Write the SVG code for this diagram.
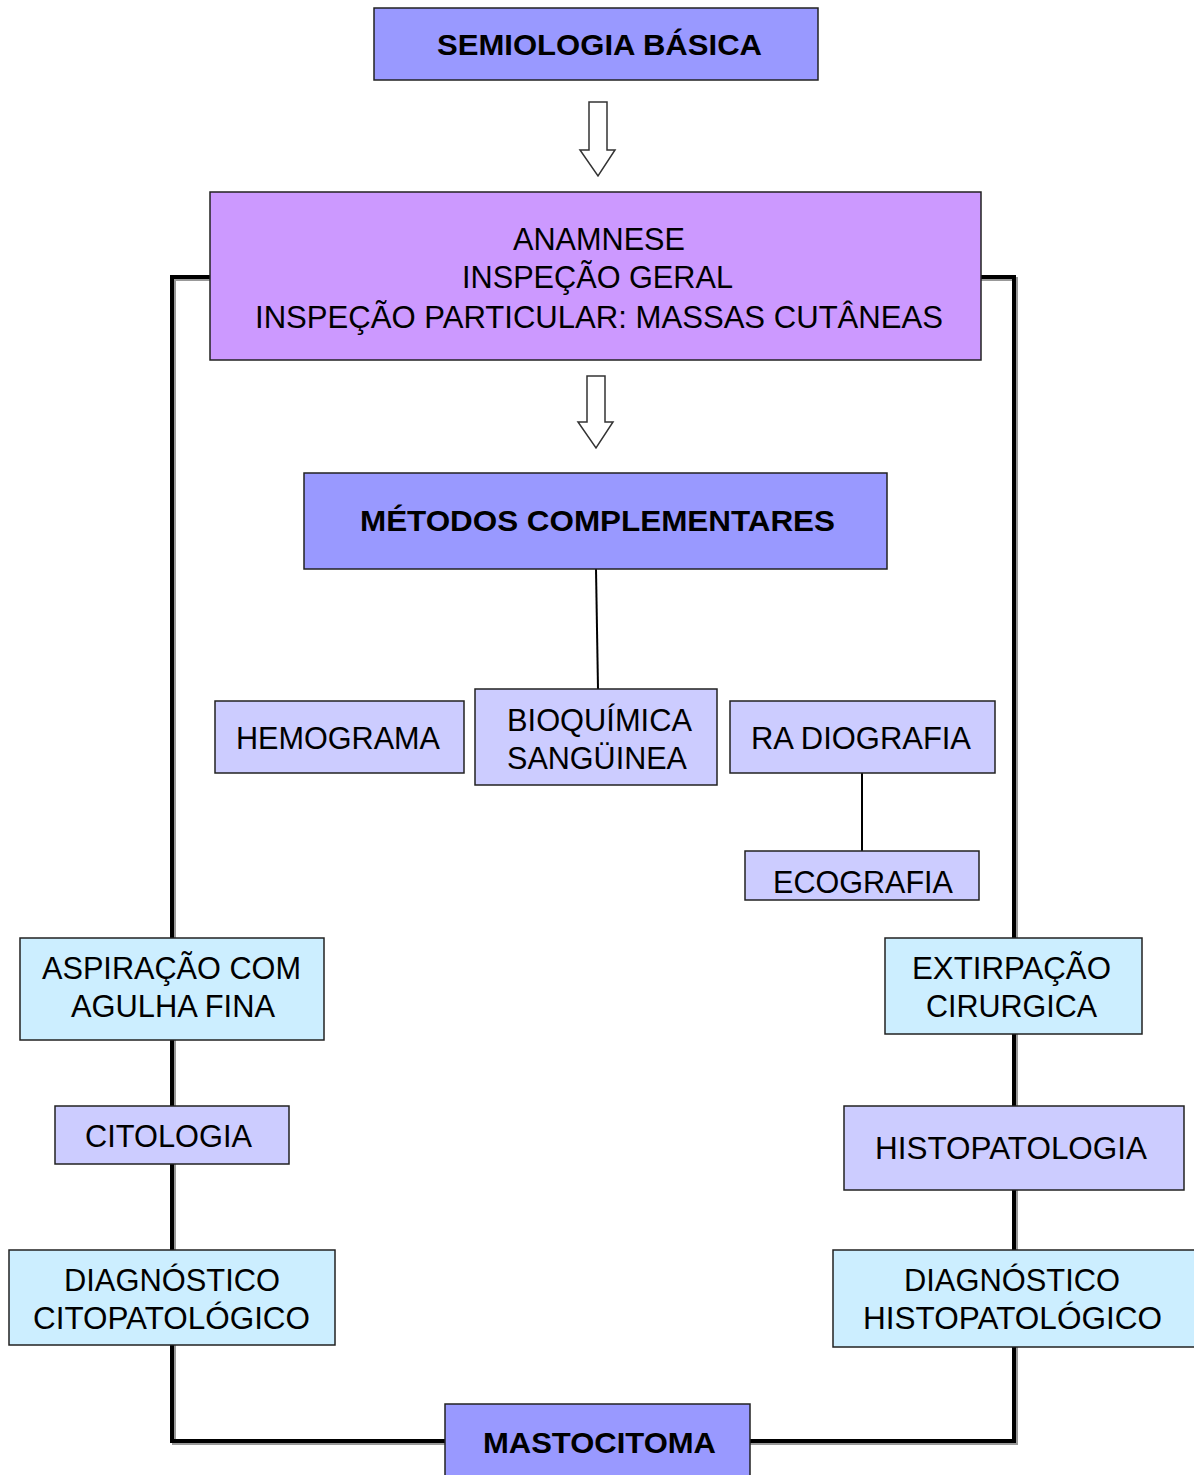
<svg xmlns="http://www.w3.org/2000/svg" width="1194" height="1475" viewBox="0 0 1194 1475">
<style>
.box{stroke:#222;stroke-width:1.5}
.dk{fill:#9999ff}
.pu{fill:#cc99ff}
.lt{fill:#ccccff}
.bl{fill:#cceeff}
text{font-family:"Liberation Sans",Arial,sans-serif;font-size:31px;fill:#000}
.b{font-weight:bold;font-size:30px}
.thick{fill:none;stroke:#000;stroke-width:4}
.shadow{fill:none;stroke:#999;stroke-width:4}
.thin{fill:none;stroke:#000;stroke-width:2}
.arrow{fill:#fff;stroke:#333;stroke-width:1.5}
</style>
<rect width="1194" height="1475" fill="#fff"/>
<g id="connectors">
<path class="shadow" d="M210,279 H174 V1443 H445"/>
<path class="shadow" d="M981,279 H1016 V1443 H750"/>
<path class="thick" d="M210,277 H172 V1441 H445"/>
<path class="thick" d="M981,277 H1014 V1441 H750"/>
<path class="thin" d="M596,569 L598,689"/>
<path class="thin" d="M862,773 V851"/>
<polygon class="arrow" points="589,102 607,102 607,150 615,150 598,176 580,150 589,150"/>
<polygon class="arrow" points="587,376 605,376 605,422 613,422 596,448 578,422 587,422"/>
</g>
<g id="semiologia">
<rect class="box dk" x="374" y="8" width="444" height="72"/>
<text class="b" x="437" y="55" textLength="325" lengthAdjust="spacingAndGlyphs">SEMIOLOGIA BÁSICA</text>
</g>
<g id="anamnese">
<rect class="box pu" x="210" y="192" width="771" height="168"/>
<text x="513" y="250" textLength="172" lengthAdjust="spacingAndGlyphs">ANAMNESE</text>
<text x="462" y="288" textLength="271" lengthAdjust="spacingAndGlyphs">INSPEÇÃO GERAL</text>
<text x="255" y="328" textLength="688" lengthAdjust="spacingAndGlyphs">INSPEÇÃO PARTICULAR: MASSAS CUTÂNEAS</text>
</g>
<g id="metodos">
<rect class="box dk" x="304" y="473" width="583" height="96"/>
<text class="b" x="360" y="531" textLength="475" lengthAdjust="spacingAndGlyphs">MÉTODOS COMPLEMENTARES</text>
</g>
<g id="hemograma">
<rect class="box lt" x="215" y="701" width="249" height="72"/>
<text x="236" y="749" textLength="204" lengthAdjust="spacingAndGlyphs">HEMOGRAMA</text>
</g>
<g id="bioquimica">
<rect class="box lt" x="475" y="689" width="242" height="96"/>
<text x="507" y="731" textLength="185" lengthAdjust="spacingAndGlyphs">BIOQUÍMICA</text>
<text x="507" y="769" textLength="180" lengthAdjust="spacingAndGlyphs">SANGÜINEA</text>
</g>
<g id="radiografia">
<rect class="box lt" x="730" y="701" width="265" height="72"/>
<text x="751" y="749" textLength="220" lengthAdjust="spacingAndGlyphs">RA DIOGRAFIA</text>
</g>
<g id="ecografia">
<rect class="box lt" x="745" y="851" width="234" height="49"/>
<text x="773" y="893" textLength="180" lengthAdjust="spacingAndGlyphs">ECOGRAFIA</text>
</g>
<g id="aspiracao">
<rect class="box bl" x="20" y="938" width="304" height="102"/>
<text x="42" y="979" textLength="259" lengthAdjust="spacingAndGlyphs">ASPIRAÇÃO COM</text>
<text x="71" y="1017" textLength="204" lengthAdjust="spacingAndGlyphs">AGULHA FINA</text>
</g>
<g id="citologia">
<rect class="box lt" x="55" y="1106" width="234" height="58"/>
<text x="85" y="1147" textLength="167" lengthAdjust="spacingAndGlyphs">CITOLOGIA</text>
</g>
<g id="diag-cito">
<rect class="box bl" x="9" y="1250" width="326" height="95"/>
<text x="64" y="1291" textLength="216" lengthAdjust="spacingAndGlyphs">DIAGNÓSTICO</text>
<text x="33" y="1329" textLength="277" lengthAdjust="spacingAndGlyphs">CITOPATOLÓGICO</text>
</g>
<g id="extirpacao">
<rect class="box bl" x="885" y="938" width="257" height="96"/>
<text x="912" y="979" textLength="199" lengthAdjust="spacingAndGlyphs">EXTIRPAÇÃO</text>
<text x="926" y="1017" textLength="171" lengthAdjust="spacingAndGlyphs">CIRURGICA</text>
</g>
<g id="histopatologia">
<rect class="box lt" x="844" y="1106" width="340" height="84"/>
<text x="875" y="1159" textLength="272" lengthAdjust="spacingAndGlyphs">HISTOPATOLOGIA</text>
</g>
<g id="diag-histo">
<rect class="box bl" x="833" y="1250" width="362" height="97"/>
<text x="904" y="1291" textLength="216" lengthAdjust="spacingAndGlyphs">DIAGNÓSTICO</text>
<text x="863" y="1329" textLength="299" lengthAdjust="spacingAndGlyphs">HISTOPATOLÓGICO</text>
</g>
<g id="mastocitoma">
<rect class="box dk" x="445" y="1404" width="305" height="75"/>
<text class="b" x="483" y="1453" textLength="233" lengthAdjust="spacingAndGlyphs">MASTOCITOMA</text>
</g>
</svg>
